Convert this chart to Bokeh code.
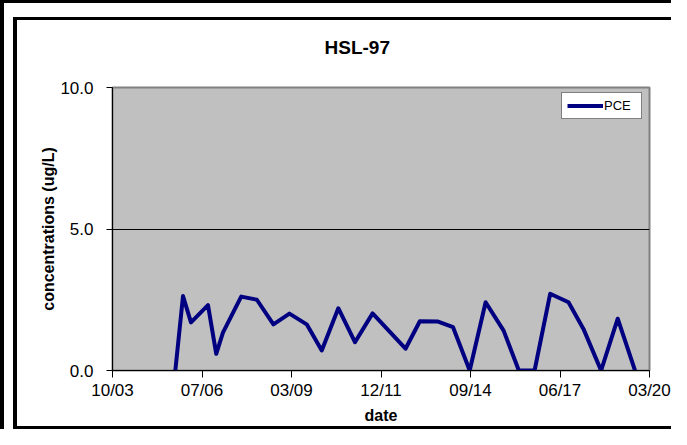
import pandas as pd
from bokeh.plotting import figure
from bokeh.models import (Range1d, FixedTicker, DatetimeTickFormatter, PrintfTickFormatter,
                          ColumnDataSource, Title, Div)
from bokeh.layouts import row, column
from bokeh.embed import file_html
from bokeh.resources import INLINE

# ---- data ----
dates = ["2005-09-07", "2005-12-02", "2006-03-01", "2006-09-07", "2006-12-08", "2007-02-21",
         "2007-09-13", "2008-03-06", "2008-09-07", "2009-03-05", "2009-09-14", "2010-03-01",
         "2010-09-02", "2011-03-07", "2011-09-20", "2012-09-22", "2013-03-01", "2013-09-21",
         "2014-03-07", "2014-09-09", "2015-03-06", "2015-09-23", "2016-03-11", "2016-09-03",
         "2017-02-24", "2017-09-17", "2018-03-03", "2018-09-16", "2019-03-21", "2019-09-30"]
pce = [0.0, 2.63, 1.70, 2.31, 0.59, 1.34,
       2.61, 2.50, 1.63, 2.01, 1.63, 0.71,
       2.20, 1.00, 2.02, 0.77, 1.74, 1.73,
       1.53, 0.0, 2.41, 1.41, 0.0, 0.0,
       2.71, 2.41, 1.47, 0.0, 1.83, 0.0]
tick_dates = ["2003-10-06", "2006-07-02", "2009-03-28", "2011-12-23",
              "2014-09-18", "2017-06-14", "2020-03-10"]
y_ticks = [0, 5, 10]
series_name = "PCE"
title_text = "HSL-97"

FONT = "Liberation Sans"

tick_ms = [float(v) for v in (pd.to_datetime(tick_dates).astype("int64") // 10**6)]
src = ColumnDataSource(dict(x=pd.to_datetime(dates), y=pce))

FW, FH = 654, 406
p = figure(width=FW, height=FH, x_axis_type="datetime", output_backend="svg",
           toolbar_location=None,
           x_range=Range1d(tick_ms[0], tick_ms[-1]), y_range=Range1d(0, 10),
           min_border_left=95, min_border_right=22, min_border_top=67, min_border_bottom=56,
           margin=0)

p.background_fill_color = "#C0C0C0"
p.border_fill_color = "white"
p.outline_line_color = "#808080"
p.outline_line_width = 2

# spacer title (closest to frame) then the real title
p.add_layout(Title(text=" ", text_font_size="13px", standoff=8, text_color="white"), "above")
p.title.text = title_text
p.title.align = "left"
p.title.offset = 212
p.title.standoff = 10
p.title.text_font = FONT
p.title.text_font_size = "19px"
p.title.text_font_style = "bold"
p.title.text_color = "black"

# grid
p.xgrid.visible = False
p.ygrid.grid_line_color = "black"
p.ygrid.grid_line_width = 1
p.ygrid.grid_line_alpha = 1.0

# axes
p.yaxis.ticker = FixedTicker(ticks=y_ticks)
p.yaxis.formatter = PrintfTickFormatter(format="%.1f")
p.xaxis.ticker = FixedTicker(ticks=tick_ms)
p.xaxis.formatter = DatetimeTickFormatter(
    milliseconds="%m/%y", seconds="%m/%y", minsec="%m/%y", minutes="%m/%y",
    hourmin="%m/%y", hours="%m/%y", days="%m/%y", months="%m/%y", years="%m/%y")

for ax in (p.xaxis[0], p.yaxis[0]):
    ax.axis_line_color = "black"
    ax.axis_line_width = 1
    ax.major_tick_line_color = "black"
    ax.major_tick_in = 0
    ax.minor_tick_line_color = None
    ax.major_label_text_font = FONT
    ax.major_label_text_font_size = "17px"
    ax.major_label_text_color = "black"
    ax.axis_label_text_font = FONT
    ax.axis_label_text_font_size = "16px"
    ax.axis_label_text_font_style = "bold"
    ax.axis_label_text_color = "black"

p.xaxis.major_tick_out = 7
p.yaxis.major_tick_out = 6
p.xaxis.major_label_standoff = 3
p.yaxis.major_label_standoff = 13
p.xaxis.axis_label = "date"
p.yaxis.axis_label = "concentrations (ug/L)"
p.xaxis.axis_label_standoff = 4
p.yaxis.axis_label_standoff = 0

# series
p.line("x", "y", source=src, line_color="#000080", line_width=4, line_join="round",
       legend_label=series_name)

lg = p.legend[0]
lg.location = (449, 251)
lg.margin = 0
lg.padding = 5
lg.glyph_width = 36
lg.glyph_height = 15
lg.label_height = 15
lg.label_width = 32
lg.label_standoff = 1
lg.label_text_font = FONT
lg.label_text_font_size = "13px"
lg.label_text_color = "black"
lg.border_line_color = "black"
lg.border_line_width = 1
lg.background_fill_color = "white"
lg.background_fill_alpha = 1.0


def bar(w, h, color="black"):
    return Div(text="", width=w, height=h, margin=0,
               styles={"background-color": color})


layout = column(
    bar(671, 3),                                  # outer frame top
    row(
        bar(4, 426),                              # outer frame left
        bar(9, 426, "white"),
        column(
            bar(658, 14, "white"),
            bar(658, 3),                          # inner frame top
            row(bar(4, FH), p, spacing=0, margin=0),   # inner frame left + chart
            bar(658, 3),                          # inner frame bottom
            spacing=0, margin=0),
        spacing=0, margin=0),
    spacing=0, margin=0)

open("out.html", "w").write(file_html(layout, INLINE))
